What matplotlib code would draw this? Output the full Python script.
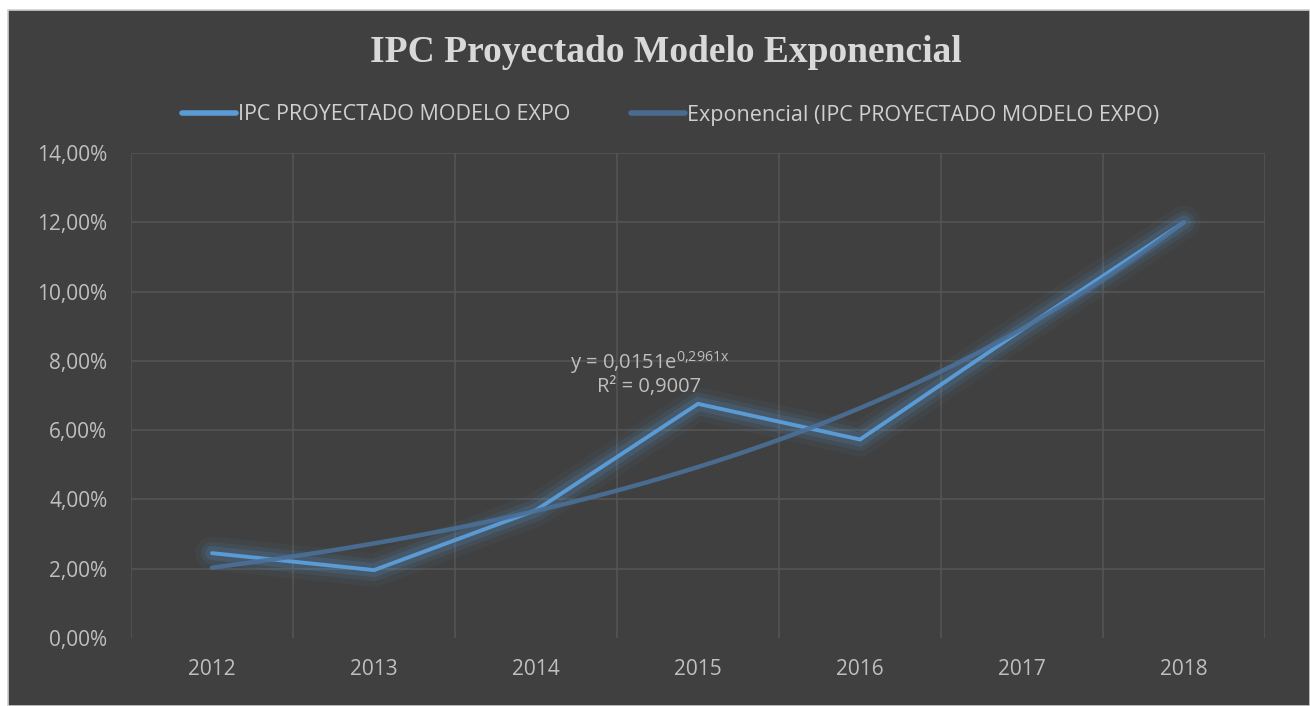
import numpy as np
import matplotlib
matplotlib.use('Agg')
import matplotlib.pyplot as plt
import matplotlib.patheffects as pe
from matplotlib.patches import Rectangle

years = ['2012', '2013', '2014', '2015', '2016', '2017', '2018']
ipc = [0.0245, 0.0196, 0.0369, 0.0676, 0.0573, 0.0890, 0.1200]
yticks = [0.0, 0.02, 0.04, 0.06, 0.08, 0.10, 0.12, 0.14]
ytick_labels = ['0,00%', '2,00%', '4,00%', '6,00%', '8,00%', '10,00%', '12,00%', '14,00%']

# exponential trendline coefficients as shown on the chart
trend_a = 0.0151
trend_b = 0.2961

title = 'IPC Proyectado Modelo Exponencial'
label_main = 'IPC PROYECTADO MODELO EXPO'
label_trend = 'Exponencial (IPC PROYECTADO MODELO EXPO)'

bg = '#404040'
grid_c = '#545454'
txt_c = '#BFBFBF'
blue = '#5B9BD5'
trend_c = '#4A7099'

plt.rcParams['mathtext.fontset'] = 'custom'
plt.rcParams['mathtext.rm'] = 'Open Sans'
plt.rcParams['mathtext.default'] = 'regular'

fig = plt.figure(figsize=(13.1, 7.06), dpi=100, facecolor='white')
fig.patches.append(Rectangle((8 / 1310, 0), 1 - 8 / 1310, 1 - 10 / 706,
                             transform=fig.transFigure, facecolor=bg,
                             edgecolor='#D0D0D0', linewidth=1.2, zorder=-10))

ax = fig.add_axes([131 / 1310, 1 - 638 / 706, (1265 - 131) / 1310, (638 - 153) / 706])
ax.patch.set_alpha(0)

x = np.arange(len(years))
xs = np.linspace(0, len(years) - 1, 200)
trend = trend_a * np.exp(trend_b * (xs + 1))

glow = [pe.Stroke(linewidth=24, foreground=blue, alpha=0.06),
        pe.Stroke(linewidth=16, foreground=blue, alpha=0.10),
        pe.Stroke(linewidth=10, foreground=blue, alpha=0.16),
        pe.Normal()]

ax.plot(x, ipc, color=blue, lw=2.8, solid_capstyle='round', solid_joinstyle='miter',
        path_effects=glow, label=label_main, zorder=3)
ax.plot(xs, trend, color=trend_c, lw=3.2, alpha=0.9, solid_capstyle='round',
        label=label_trend, zorder=4)

ax.set_xlim(-0.5, len(years) - 0.5)
ax.set_ylim(0, 0.14)
ax.set_xticks(x)
ax.set_xticklabels(years)
ax.set_yticks(yticks)
ax.set_yticklabels(ytick_labels)
ax.tick_params(axis='both', which='both', length=0, colors=txt_c, labelsize=15)
ax.tick_params(axis='x', pad=15)
ax.tick_params(axis='y', pad=17)
for lab in ax.get_xticklabels() + ax.get_yticklabels():
    lab.set_fontfamily('Open Sans')

for yv in yticks[1:]:
    ax.axhline(yv, color=grid_c, lw=1.2, zorder=1)
for xv in np.arange(-0.5, len(years), 1):
    ax.axvline(xv, color=grid_c, lw=1.2, zorder=1)
for s in ax.spines.values():
    s.set_visible(False)

ax.text(2.7, 0.0795, 'y = 0,0151e$^{0{,}2961x}$', color=txt_c, fontsize=14.5,
        family='Open Sans', ha='center', va='center', zorder=5)
ax.text(2.7, 0.0725, 'R² = 0,9007', color=txt_c, fontsize=14.5,
        family='Open Sans', ha='center', va='center', zorder=5)

fig.text(0.5 + 11 / 1310, 1 - 53 / 706, title, color='#D9D9D9', fontsize=27,
         fontweight='bold', family='Liberation Serif', ha='center', va='center')

leg = fig.legend(loc='center', bbox_to_anchor=(0.512, 1 - 115 / 706), ncol=2,
                 frameon=False, prop={'family': 'Open Sans', 'size': 15.5},
                 handlelength=2.5, columnspacing=2.8, handletextpad=0.1)
for t in leg.get_texts():
    t.set_color('#D0D0D0')
for h in leg.legend_handles:
    h.set_path_effects([])
    h.set_linewidth(4)

fig.savefig('out.png', dpi=100, facecolor='white')
